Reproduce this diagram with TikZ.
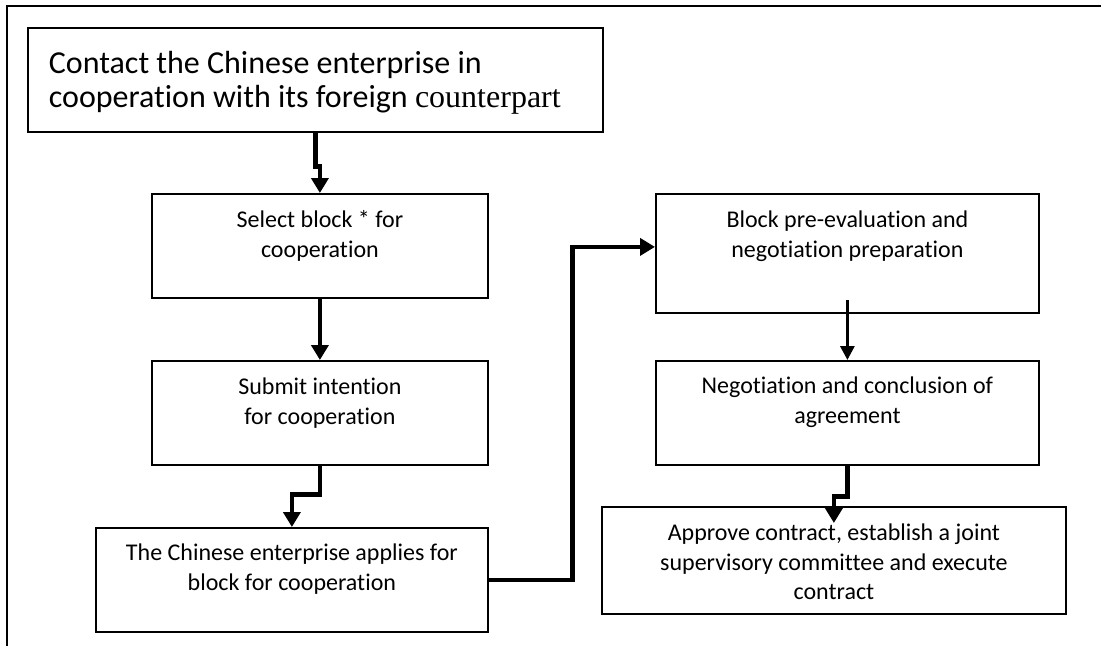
\documentclass[tikz,border=0pt]{standalone}
\usepackage{fontspec}
\setmainfont{Carlito}[Ligatures=NoCommon]
\newfontfamily\timesfont{Liberation Serif}
\usetikzlibrary{arrows.meta}
\newcommand{\boxtext}[4]{\parbox[t][#2][t]{#1}{\centering\rule{0pt}{#3}#4}}

\begin{document}
\begin{tikzpicture}[x=1pt,y=-1pt]
		\tikzstyle{Box} = [draw=black, line width=1.8pt, inner sep=0pt, anchor=north west,
			font=\fontsize{24}{29.5}\selectfont]
		\tikzstyle{Flow} = [line width=4.8pt, -{Triangle[width=17pt,length=15pt]}]
		\tikzstyle{ThinFlow} = [line width=3pt, -{Triangle[width=14pt,length=14pt]}]

		\useasboundingbox (0,0) rectangle (1101,646);

		%Draw frame
		\draw[line width=2pt] (7,646) -- (7,6) -- (1101,6);

		%Draw boxes
		\node[Box, font=\fontsize{32}{34}\selectfont] (Contact) at (27,27)
			{\parbox[t][104pt][t]{575pt}{\leftskip=21pt\rule{0pt}{46pt}Contact the Chinese enterprise in\\cooperation with its foreign {\timesfont counterpart}}};
		\node[Box] (Select) at (151,193) {\boxtext{336pt}{104pt}{34pt}{Select block * for\\cooperation}};
		\node[Box] (Submit) at (151,360) {\boxtext{336pt}{104pt}{34pt}{Submit intention\\for cooperation}};
		\node[Box] (Apply) at (95,527) {\boxtext{392pt}{104pt}{33pt}{The Chinese enterprise applies for\\block for cooperation}};
		\node[Box] (PreEval) at (655,193) {\boxtext{383pt}{119pt}{34pt}{Block pre-evaluation and\\negotiation preparation}};
		\node[Box] (Negot) at (655,360) {\boxtext{383pt}{104pt}{33pt}{Negotiation and conclusion of\\agreement}};
		\node[Box] (Approve) at (601,506) {\boxtext{464pt}{107pt}{34pt}{Approve contract, establish a joint\\supervisory committee and execute\\contract}};

		%Draw arrows
		\draw[Flow] (Contact.south) -- ++(0,34) -| (Select.north);
		\draw[Flow] (Select.south) -- (Submit.north);
		\draw[Flow] (Submit.south) -- ++(0,29) -| (Apply.north);
		\draw[Flow] (Apply.east) -- ++(84,0) |- ([yshift=6.5pt]PreEval.west);
		\draw[ThinFlow] ([yshift=14pt]PreEval.south) -- (Negot.north);
		\draw[Flow] (Negot.south) -- ++(0,31) -| ([yshift=-17pt]Approve.north);
	\end{tikzpicture}
\end{document}
